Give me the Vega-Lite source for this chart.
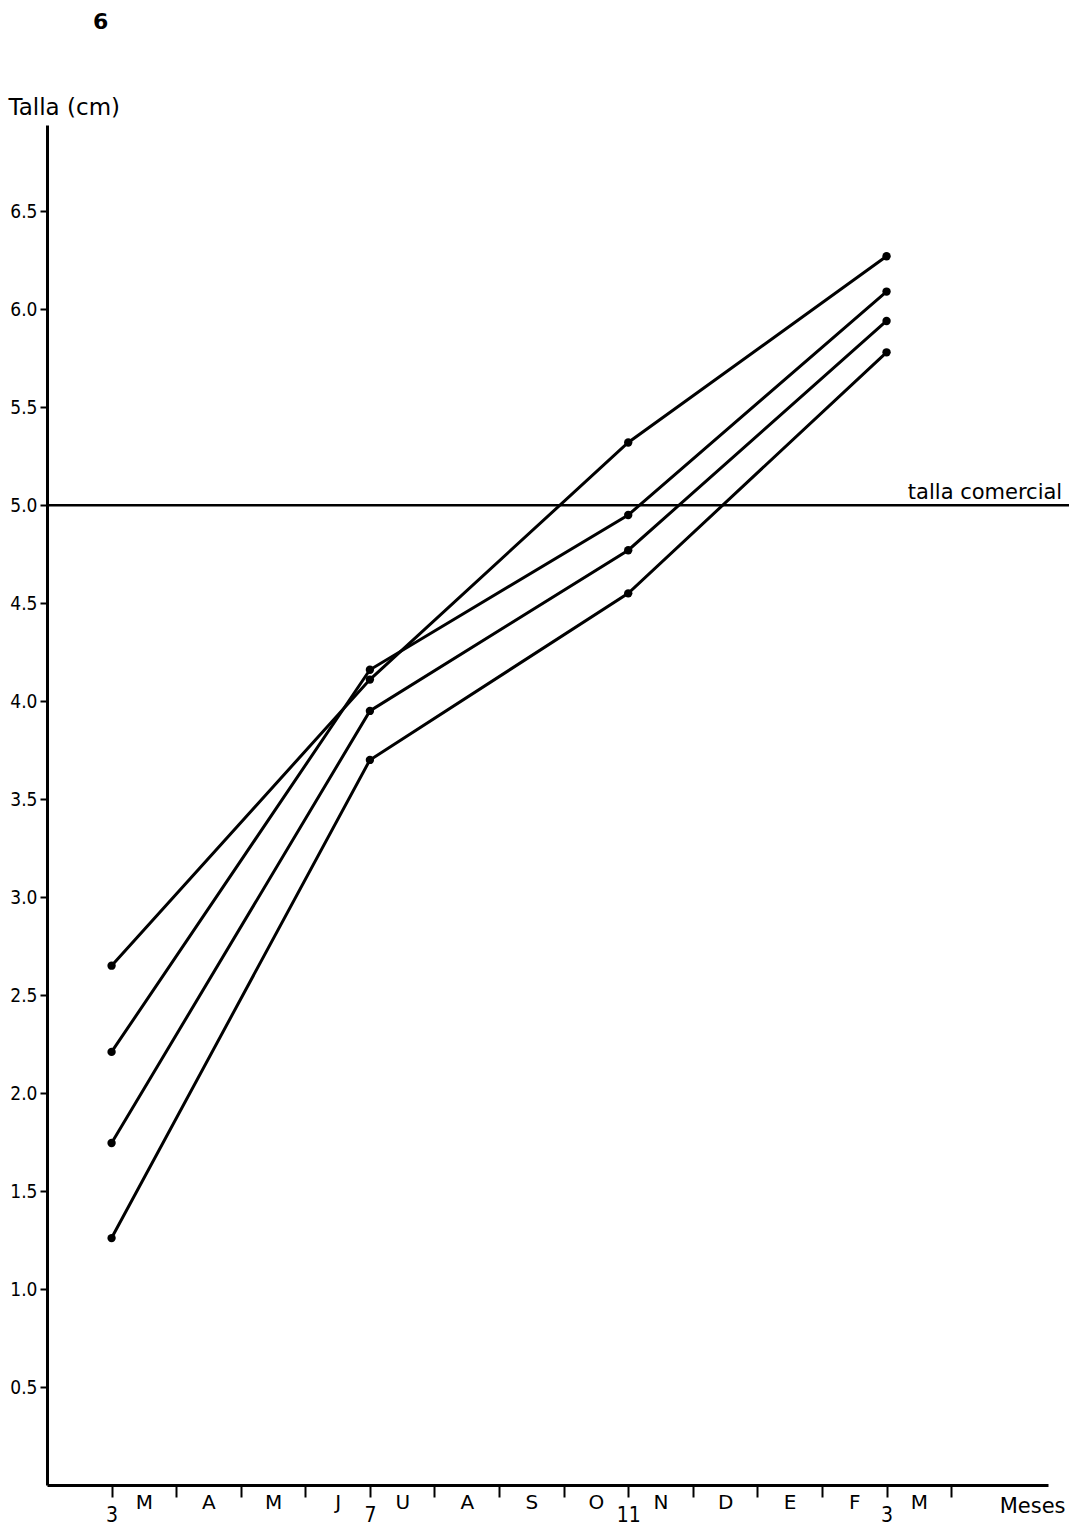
{
  "$schema": "https://vega.github.io/schema/vega-lite/v6.json",
  "width": 1001,
  "height": 1360,
  "autosize": {"type": "none"},
  "padding": {"left": 47, "top": 125, "right": 21, "bottom": 43},
  "background": "white",
  "title": {"text": "6", "anchor": "start", "frame": "group", "dx": 46, "offset": 45, "baseline": "alphabetic", "fontSize": 22, "fontWeight": "bold", "font": "DejaVu Sans", "color": "black"},
  "config": {"view": {"stroke": null}, "font": "DejaVu Sans Condensed"},
  "layer": [
    {
      "data": {"values": [
        {"serie": "A", "mes": 0, "talla": 2.65},
        {"serie": "A", "mes": 4, "talla": 4.11},
        {"serie": "A", "mes": 8, "talla": 5.32},
        {"serie": "A", "mes": 12, "talla": 6.27},
        {"serie": "B", "mes": 0, "talla": 2.21},
        {"serie": "B", "mes": 4, "talla": 4.16},
        {"serie": "B", "mes": 8, "talla": 4.95},
        {"serie": "B", "mes": 12, "talla": 6.09},
        {"serie": "C", "mes": 0, "talla": 1.745},
        {"serie": "C", "mes": 4, "talla": 3.95},
        {"serie": "C", "mes": 8, "talla": 4.77},
        {"serie": "C", "mes": 12, "talla": 5.94},
        {"serie": "D", "mes": 0, "talla": 1.26},
        {"serie": "D", "mes": 4, "talla": 3.70},
        {"serie": "D", "mes": 8, "talla": 4.55},
        {"serie": "D", "mes": 12, "talla": 5.78}
      ]},
      "mark": {"type": "line", "color": "black", "strokeWidth": 3, "point": {"filled": true, "size": 70, "color": "black"}},
      "encoding": {
        "x": {
          "field": "mes", "type": "quantitative",
          "scale": {"domain": [-1, 14.5], "nice": false, "zero": false},
          "axis": {
            "orient": "bottom", "title": null, "grid": false,
            "values": [0, 1, 2, 3, 4, 5, 6, 7, 8, 9, 10, 11, 12, 13],
            "labelExpr": "datum.value == 0 ? '3' : datum.value == 4 ? '7' : datum.value == 8 ? '11' : datum.value == 12 ? '3' : ''",
            "tickSize": 12, "tickWidth": 2, "tickColor": "black",
            "domainWidth": 3, "domainColor": "black",
            "labelFontSize": 21, "labelColor": "black", "labelBaseline": "top", "labelPadding": 7,
            "labelFlush": false, "labelOverlap": false, "labelFont": "DejaVu Sans Condensed"
          }
        },
        "y": {
          "field": "talla", "type": "quantitative",
          "scale": {"domain": [0, 6.94], "nice": false, "zero": true},
          "axis": {
            "title": "Talla (cm)", "titleAngle": 0, "titleX": -39, "titleY": -11,
            "titleAlign": "left", "titleBaseline": "alphabetic", "titleFontSize": 23,
            "titleFontWeight": "normal", "titleFont": "DejaVu Sans", "titleColor": "black",
            "grid": false,
            "values": [0.5, 1, 1.5, 2, 2.5, 3, 3.5, 4, 4.5, 5, 5.5, 6, 6.5],
            "format": ".1f",
            "tickSize": 7, "tickWidth": 2, "tickColor": "black",
            "domainWidth": 3, "domainColor": "black",
            "labelFontSize": 19, "labelColor": "black", "labelPadding": 3,
            "labelFont": "DejaVu Sans Condensed"
          }
        },
        "detail": {"field": "serie"}
      }
    },
    {
      "data": {"values": [{"nivel": 5.0}]},
      "mark": {"type": "rule", "color": "black", "strokeWidth": 2.5},
      "encoding": {
        "y": {"field": "nivel", "type": "quantitative"},
        "x": {
          "datum": -1, "type": "quantitative",
          "axis": {
            "orient": "bottom", "title": "Meses", "grid": false,
            "values": [0.5, 1.5, 2.5, 3.5, 4.5, 5.5, 6.5, 7.5, 8.5, 9.5, 10.5, 11.5, 12.5],
            "labelExpr": "['M','A','M','J','U','A','S','O','N','D','E','F','M'][floor(datum.value)]",
            "ticks": false, "tickSize": 0, "domain": false,
            "labelFontSize": 20, "labelColor": "black", "labelBaseline": "top", "labelPadding": 7,
            "labelFlush": false, "labelOverlap": false, "labelFont": "DejaVu Sans",
            "titleX": 1018, "titleY": 27, "titleAlign": "right", "titleBaseline": "alphabetic",
            "titleFontSize": 21, "titleFontWeight": "normal", "titleFont": "DejaVu Sans", "titleColor": "black"
          }
        },
        "x2": {"datum": 14.83}
      }
    },
    {
      "data": {"values": [{"etiqueta": "talla comercial", "nivel": 5.0}]},
      "mark": {"type": "text", "align": "right", "baseline": "alphabetic", "dy": -6, "fontSize": 21, "font": "DejaVu Sans", "color": "black"},
      "encoding": {
        "y": {"field": "nivel", "type": "quantitative"},
        "x": {"datum": 14.72, "type": "quantitative", "axis": null},
        "text": {"field": "etiqueta"}
      }
    }
  ],
  "resolve": {"axis": {"x": "independent"}}
}
